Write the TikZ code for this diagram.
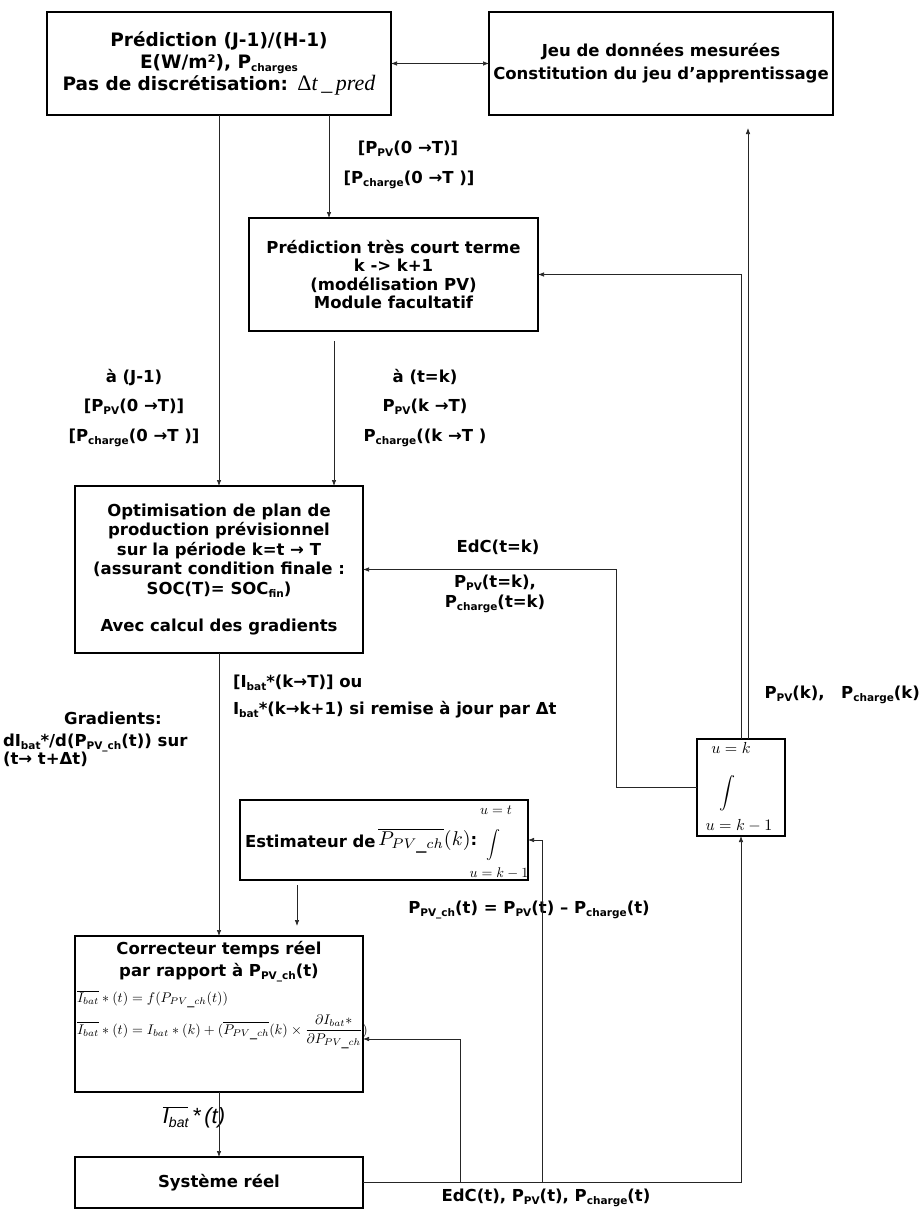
\documentclass[tikz,border=0pt]{standalone}
\usepackage{graphicx}
\usepackage{fontspec}
\setmainfont{DejaVu Sans}
\newfontfamily\tms{Liberation Serif}
\newfontfamily\arl{Liberation Sans}
\usetikzlibrary{arrows.meta}
\newcommand\lsub[1]{\raisebox{-3pt}{\fontsize{10.5}{10}\selectfont\bfseries #1}}
\newcommand\mth[2]{\scalebox{#1}{\fontsize{10}{12}\selectfont$#2$}}
\begin{document}
\begin{tikzpicture}[x=1pt,y=-1pt,
  every node/.style={inner sep=0pt, outer sep=0pt},
  fnt/.style={font=\bfseries\fontsize{16.5}{19.5}\selectfont},
  box/.style={draw=black, line width=1.3pt, align=center, fnt},
  lbl/.style={align=center, fnt},
  arr/.style={-{Latex[length=6pt,width=4.5pt]}, line width=0.7pt, draw=black!85},
  darr/.style={{Latex[length=6pt,width=4.5pt]}-{Latex[length=6pt,width=4.5pt]}, line width=0.7pt, draw=black!85},
]
\useasboundingbox (0,0) rectangle (922,1219);
\fill[white] (0,0) rectangle (922,1219);

% boxes
\node[box,minimum width=344pt,minimum height=103pt,font=\bfseries\fontsize{18.5}{22}\selectfont] (b1) at (219,63.5)
 {Prédiction (J-1)/(H-1)\\E(W/m²), P\lsub{charges}\\Pas de discrétisation:\enspace{\tms\mdseries\fontsize{22}{22}\selectfont Δ\itshape t\,\_\,pred}};
\node[box,minimum width=344pt,minimum height=103pt,font=\bfseries\fontsize{16.5}{23}\selectfont] (b2) at (661,63.5)
 {Jeu de données mesurées\\Constitution du jeu d’apprentissage};
\node[box,minimum width=289pt,minimum height=113pt,font=\bfseries\fontsize{16.5}{18.5}\selectfont] (b3) at (393.5,274.5)
 {Prédiction très court terme\\k -> k+1\\(modélisation PV)\\Module facultatif};
\node[box,minimum width=288pt,minimum height=167pt] (opt) at (219,569.5)
 {Optimisation de plan de\\production prévisionnel\\sur la période k=t → T\\(assurant condition finale :\\SOC(T)= SOC\lsub{fin})\\[18pt]Avec calcul des gradients};
\node[box,minimum width=88pt,minimum height=97pt] (int) at (741,787.5) {};
\node (intT) at (731,748) {\mth{1.6}{u=k}};
\node (intS) at (727,793) {\mth{1.6}{\displaystyle\int}};
\node (intB) at (739,826) {\mth{1.6}{u=k-1}};

\node[box,minimum width=288pt,minimum height=80pt] (est) at (384,840) {};
\node[anchor=west,fnt] (estA) at (245,841) {Estimateur de\,};
\node[anchor=west] (estP) at (estA.east) {\mth{2}{\overline{P_{PV\_ch}}(k)}};
\node[anchor=west,fnt] (estC) at (estP.east) {:};
\node (estT) at (496,810) {\mth{1.4}{u=t}};
\node (estS) at (493,845) {\mth{1.4}{\displaystyle\int}};
\node (estB) at (499,873) {\mth{1.4}{u=k-1}};

\node[box,minimum width=288pt,minimum height=156pt] (cor) at (219,1014) {};
\node[lbl,font=\bfseries\fontsize{16.5}{22}\selectfont] (corT) at (219,962) {Correcteur temps réel\\par rapport à P\lsub{PV\_ch}(t)};
\node[anchor=west] (corF1) at (77,999) {\mth{1.4}{\overline{I_{bat}}*(t)=f(P_{PV\_ch}(t))}};
\node[anchor=west] (corF2) at (77,1032) {\mth{1.4}{\overline{I_{bat}}*(t)=I_{bat}*(k)+(\overline{P_{PV\_ch}}(k)\times\displaystyle\frac{\partial I_{bat}*}{\partial P_{PV\_ch}})}};

\node[box,minimum width=288pt,minimum height=51pt] (sys) at (219,1182.5) {Système réel};

% labels
\node[lbl] (l1) at (408,149) {[P\lsub{PV}(0 →T)]};
\node[lbl] (l2) at (409,180) {[P\lsub{charge}(0 →T )]};
\node[lbl,font=\bfseries\fontsize{16.5}{29.5}\selectfont] (l3) at (134,408) {à (J-1)\\{}[P\lsub{PV}(0 →T)]\\{}[P\lsub{charge}(0 →T )]};
\node[lbl,font=\bfseries\fontsize{16.5}{29.5}\selectfont] (l4) at (425,408) {à (t=k)\\P\lsub{PV}(k →T)\\P\lsub{charge}((k →T )};
\node[lbl] (l5) at (498,547) {EdC(t=k)};
\node[lbl] (l6) at (495,594) {P\lsub{PV}(t=k),\\P\lsub{charge}(t=k)};
\node[lbl,anchor=east] (l7) at (920,695) {P\lsub{PV}(k),\quad P\lsub{charge}(k)};
\node[lbl,anchor=west,align=left,font=\bfseries\fontsize{16.5}{27}\selectfont] (l8) at (233,696.5) {[I\lsub{bat}*(k→T)] ou\\I\lsub{bat}*(k→k+1) si remise à jour par Δt};
\node[lbl] (l9) at (113,718) {Gradients:};
\node[lbl,anchor=west,align=left,font=\bfseries\fontsize{16.5}{18}\selectfont] (l10) at (3,750) {dI\lsub{bat}*/d(P\lsub{PV\_ch}(t)) sur\\(t→ t+Δt)};
\node[lbl] (l11) at (529,910) {P\lsub{PV\_ch}(t) = P\lsub{PV}(t) – P\lsub{charge}(t)};
\node[lbl] (l12) at (546,1198) {EdC(t), P\lsub{PV}(t), P\lsub{charge}(t)};
\node (l13) at (194,1117) {\fontsize{22}{22}\selectfont\arl\itshape $\overline{\mbox{I\raisebox{-4pt}{\fontsize{14}{14}\selectfont bat}}}$\,*\,(t)};

% connectors
\draw[darr] (b1.east) -- (b2.west);
\draw[arr] (b1.south) -- (opt.north);
\draw[arr] ([xshift=110pt]b1.south) -- ([xshift=110pt]b1.south |- b3.north);
\draw[arr] ([xshift=-59.5pt,yshift=-10pt]b3.south) -- ([xshift=-59.5pt]b3.south |- opt.north);
\coordinate (t2) at (748,128);
\draw[arr] ([xshift=7pt]int.north) -- (t2);
\draw[arr] (int.north) |- (b3.east);
\coordinate (k1) at (616,787.5);
\draw[arr] (int.west) -- (k1) |- (opt.east);
\draw[arr] (opt.south) -- (cor.north);
\coordinate (e2) at (297,926);
\draw[arr] ([xshift=-87pt,yshift=-5pt]est.south) -- (e2);
\draw[arr] (cor.south) -- (sys.north);
\draw[arr] (sys.east) -| (int.south);
\coordinate (j1) at (460,1182.5);
\coordinate (j2) at (542,1182.5);
\draw[arr] (j1) |- ([yshift=-25pt]cor.east);
\draw[arr] (j2) |- (est.east);
\end{tikzpicture}
\end{document}
